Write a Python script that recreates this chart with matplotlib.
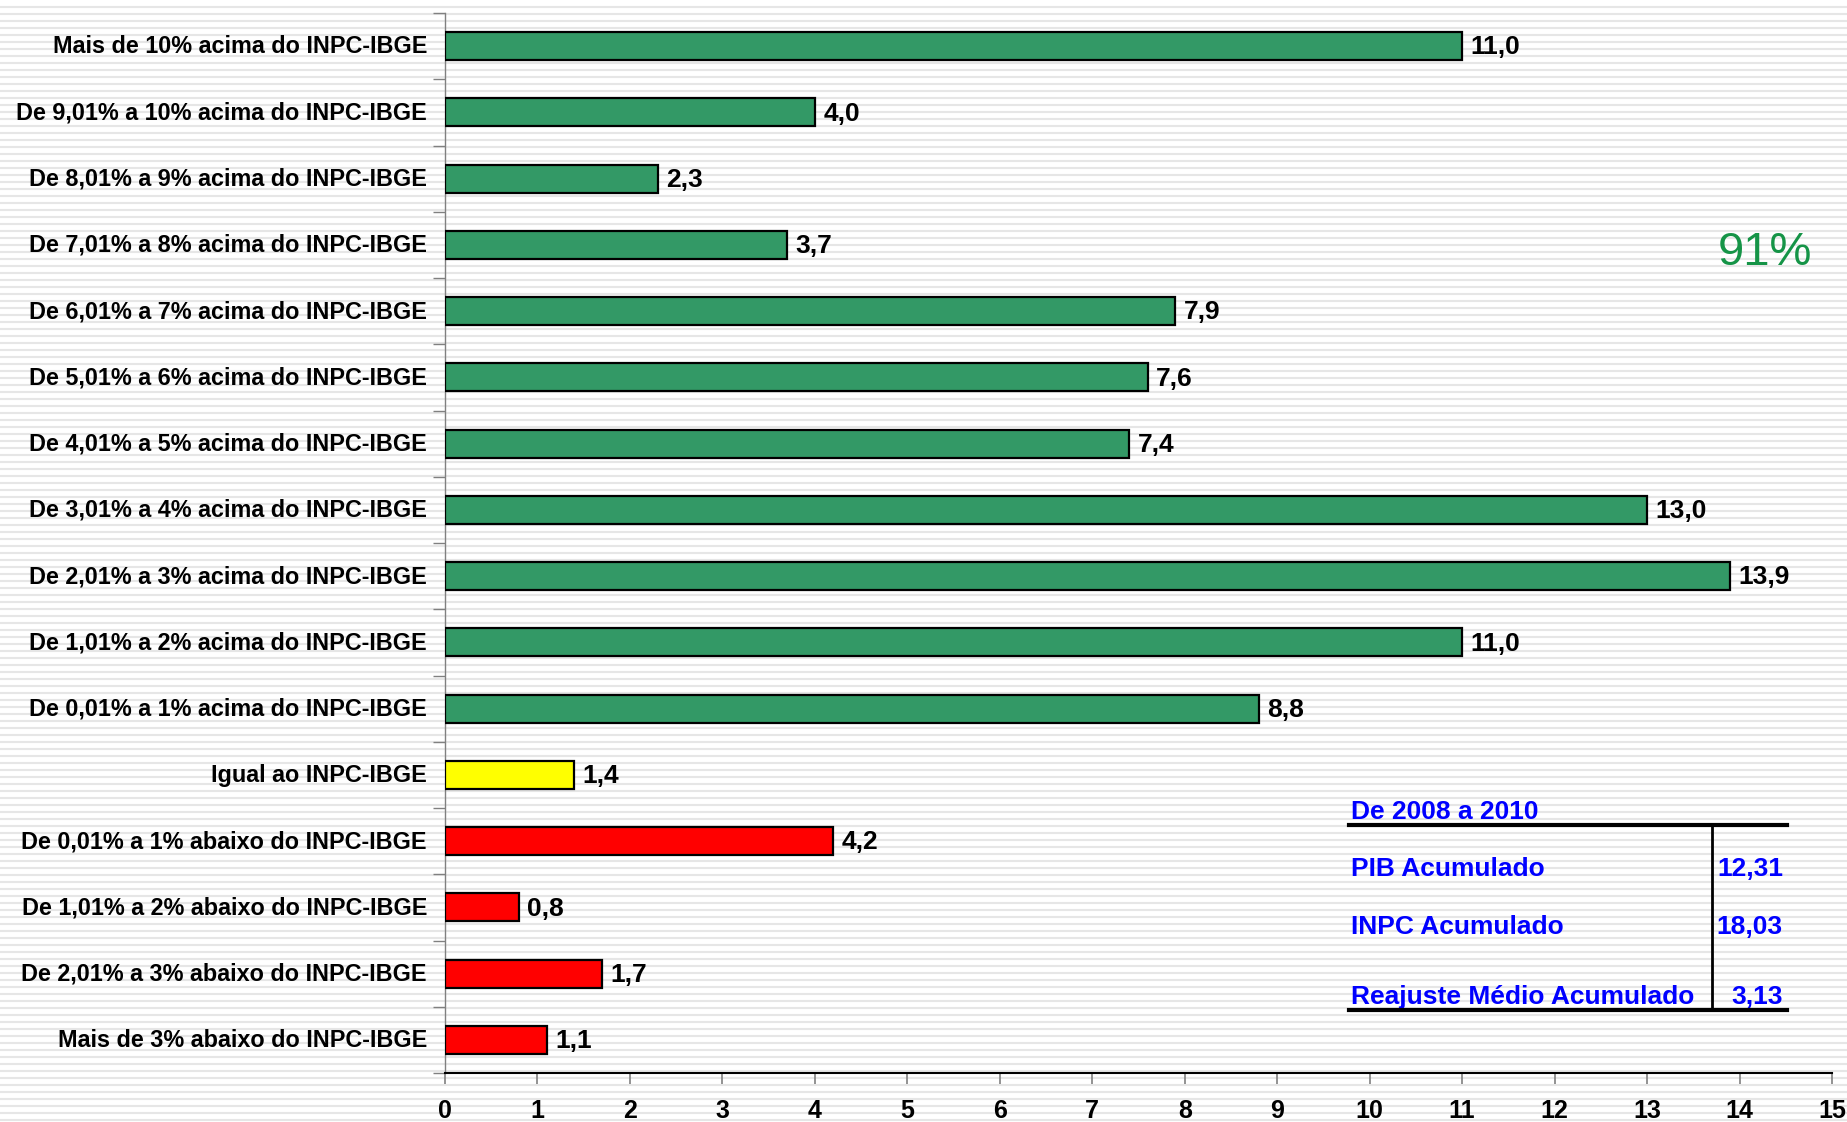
import matplotlib
matplotlib.use("Agg")
import matplotlib.pyplot as plt
from matplotlib.lines import Line2D
from matplotlib.transforms import ScaledTranslation
import numpy as np

categories = [
    "Mais de 10% acima do INPC-IBGE",
    "De 9,01% a 10% acima do INPC-IBGE",
    "De 8,01% a 9% acima do INPC-IBGE",
    "De 7,01% a 8% acima do INPC-IBGE",
    "De 6,01% a 7% acima do INPC-IBGE",
    "De 5,01% a 6% acima do INPC-IBGE",
    "De 4,01% a 5% acima do INPC-IBGE",
    "De 3,01% a 4% acima do INPC-IBGE",
    "De 2,01% a 3% acima do INPC-IBGE",
    "De 1,01% a 2% acima do INPC-IBGE",
    "De 0,01% a 1% acima do INPC-IBGE",
    "Igual ao INPC-IBGE",
    "De 0,01% a 1% abaixo do INPC-IBGE",
    "De 1,01% a 2% abaixo do INPC-IBGE",
    "De 2,01% a 3% abaixo do INPC-IBGE",
    "Mais de 3% abaixo do INPC-IBGE",
]
values = [11.0, 4.0, 2.3, 3.7, 7.9, 7.6, 7.4, 13.0, 13.9, 11.0, 8.8, 1.4, 4.2, 0.8, 1.7, 1.1]
groups = ["acima"] * 11 + ["igual"] + ["abaixo"] * 4
group_colors = {"acima": "#339966", "igual": "#FFFF00", "abaixo": "#FF0000"}
x_ticks = list(range(0, 16))

table_title = "De 2008 a 2010"
table_rows = ["PIB Acumulado", "INPC Acumulado", "Reajuste Médio Acumulado"]
table_vals = ["12,31", "18,03", "3,13"]
share_text = "91%"

plt.rcParams['font.family'] = ['Liberation Sans', 'DejaVu Sans']

W, H = 1847, 1122
fig = plt.figure(figsize=(W / 100, H / 100), dpi=100)
fig.patch.set_facecolor("white")

# striped background
for yp in np.arange(2, H, 7):
    fig.add_artist(Line2D([0, 1], [yp / H, yp / H], transform=fig.transFigure,
                          color="#e6e6e6", lw=1.5, zorder=0))

left, right = 445 / W, 1832 / W
bottom, top = (H - 1073) / H, (H - 13) / H
ax = fig.add_axes([left, bottom, right - left, top - bottom])
ax.set_facecolor("none")

y = np.arange(len(categories))
colors = [group_colors[g] for g in groups]
ax.barh(y, values, height=0.42, color=colors, edgecolor="black", linewidth=1.6, zorder=3)

for yi, v in zip(y, values):
    ax.text(v + 0.09, yi + 0.02, f"{v:.1f}".replace(".", ","), va="center", ha="left",
            fontsize=19, fontweight="bold", color="black", zorder=4)

ax.set_xlim(0, 15)
ax.set_ylim(len(categories) - 0.5, -0.5)
ax.set_xticks(x_ticks)
ax.set_xticklabels([str(t) for t in x_ticks], fontsize=18, fontweight="bold")
ax.set_yticks(y)
ax.set_yticklabels(categories, fontsize=16.8, fontweight="bold")
ax.set_yticks(np.arange(-0.5, len(categories), 1), minor=True)
ax.tick_params(axis="y", which="major", length=0, pad=13)
ax.tick_params(axis="y", which="minor", length=9, color="#808080", width=1)
ax.tick_params(axis="x", length=8, color="#808080", width=1.2, pad=11)
shift = ScaledTranslation(0, 2 / 100, fig.dpi_scale_trans)
for lbl in ax.get_yticklabels():
    lbl.set_transform(lbl.get_transform() + shift)

for s in ["top", "right"]:
    ax.spines[s].set_visible(False)
ax.spines["left"].set_color("#808080")
ax.spines["left"].set_linewidth(1)
ax.spines["bottom"].set_color("black")
ax.spines["bottom"].set_linewidth(1.5)

# 91% annotation
ax.text(14.27, 3.13, share_text, color="#159447", fontsize=34, ha="center", va="center",
        clip_on=False)

# summary table
blue = "#0000FF"
tx0, tx1, tv = 9.78, 14.51, 13.70
ax.plot([tx0, tx1], [11.76, 11.76], color="black", lw=3, clip_on=False, zorder=5)
ax.plot([tx0, tx1], [14.55, 14.55], color="black", lw=3, clip_on=False, zorder=5)
ax.plot([tv, tv], [11.76, 14.55], color="black", lw=2, clip_on=False, zorder=5)
ax.text(tx0 + 0.02, 11.67, table_title, color=blue, fontsize=19, fontweight="bold",
        ha="left", va="baseline")
row_y = [12.52, 13.40, 14.46]
for ry, lab, val in zip(row_y, table_rows, table_vals):
    ax.text(tx0 + 0.02, ry, lab, color=blue, fontsize=19, fontweight="bold", ha="left", va="baseline")
    ax.text(14.47, ry, val, color=blue, fontsize=19, fontweight="bold", ha="right", va="baseline")

fig.savefig("out.png", dpi=100, facecolor="white")
